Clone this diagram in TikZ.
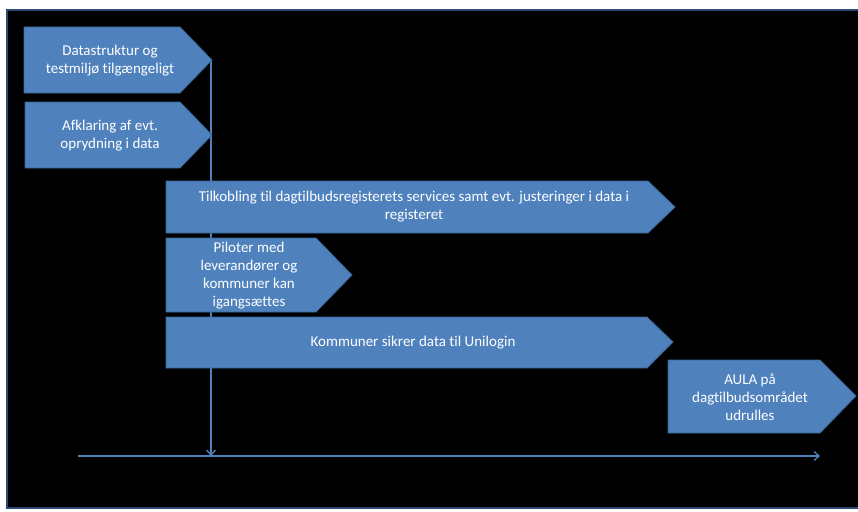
\documentclass[tikz,border=0pt]{standalone}
\usepackage{fontspec}
\setmainfont{Carlito}[Ligatures={NoCommon,NoContextual}]
\usetikzlibrary{arrows.meta}
\definecolor{boxfill}{HTML}{4F81BD}
\definecolor{boxedge}{HTML}{3A6596}
\definecolor{frameblue}{HTML}{2C4A74}
\tikzset{
  box/.style={fill=boxfill, draw=boxedge, line width=0.8pt, line join=miter},
  lbl/.style={text=white, align=center, font=\fontsize{15}{18}\selectfont, inner sep=0pt},
  conn/.style={draw=boxfill, line width=1.4pt, -{Straight Barb[length=5pt,width=9pt,line width=1.3pt]}}
}
\begin{document}
\begin{tikzpicture}[x=1pt,y=-1pt]
\useasboundingbox (0,0) rectangle (858,511);
\fill[white] (0,0) rectangle (858,511);
\fill[black] (7,10) rectangle (860,508);
\draw[frameblue, line width=1.5pt] (860,10) -- (7,10) -- (7,508) -- (860,508);
% timeline (behind the boxes)
\coordinate (t1) at (211,60);
\coordinate (tl0) at (78,456);
\coordinate (tl1) at (820,456);
\coordinate (tv) at (211,456);
\draw[conn] (tl0) -- (tl1);
\draw[conn] (t1) -- (tv);
% box 1
\path[box] (24,27) -- (180,27) -- (212,60) -- (180,93) -- (24,93) -- cycle;
\node[lbl] (b1) at (110,61) {Datastruktur og\\testmiljø tilgængeligt};
% box 2
\path[box] (25,102) -- (180,102) -- (212,135) -- (180,168) -- (25,168) -- cycle;
\node[lbl] (b2) at (110,136) {Afklaring af evt.\\oprydning i data};
% box 3
\path[box] (166,181) -- (648,181) -- (675,207) -- (648,233) -- (166,233) -- cycle;
\node[lbl] (b3) at (414,207) {Tilkobling til dagtilbudsregisterets services samt evt. justeringer i data i\\registeret};
% box 4
\path[box] (166,238) -- (316,238) -- (352,275) -- (316,312) -- (166,312) -- cycle;
\node[lbl] (b4) at (249,276) {Piloter med\\leverandører og\\kommuner kan\\igangsæt{}tes};
% box 5
\path[box] (166,317) -- (647,317) -- (673,342) -- (647,368) -- (166,368) -- cycle;
\node[lbl] (b5) at (413,343) {Kommuner sikrer data til Unilogin};
% box 6
\path[box] (668,360) -- (820,360) -- (856,396) -- (820,433) -- (668,433) -- cycle;
\node[lbl] (b6) at (750,397) {AULA på\\dagtilbudsområdet\\udrulles};
\end{tikzpicture}
\end{document}
